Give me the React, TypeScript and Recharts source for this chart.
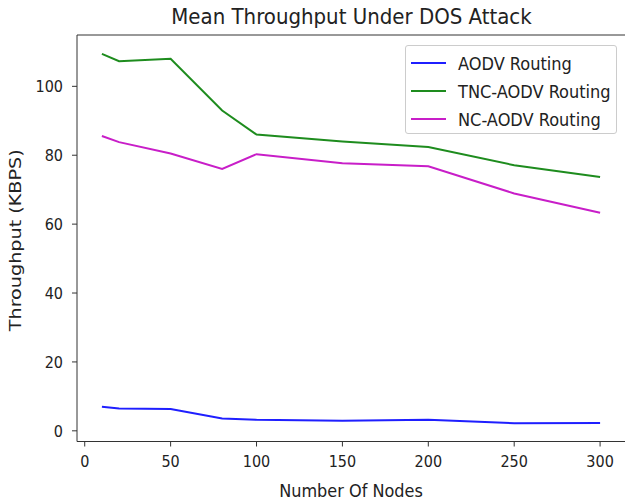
import { Line, LineChart, ReferenceLine, XAxis, YAxis } from 'recharts';

const nodes = [10, 20, 50, 80, 100, 150, 200, 250, 300];
const aodv = [7.0, 6.5, 6.3, 3.6, 3.2, 2.9, 3.2, 2.2, 2.3];
const tncAodv = [109.4, 107.3, 108.0, 93.0, 86.0, 84.0, 82.4, 77.1, 73.7];
const ncAodv = [85.6, 83.8, 80.5, 76.0, 80.3, 77.7, 76.8, 68.9, 63.3];
const xTicks = [0, 50, 100, 150, 200, 250, 300];
const yTicks = [0, 20, 40, 60, 80, 100];

const series = [
  { key: 'aodv', name: 'AODV Routing', color: '#1f1fff' },
  { key: 'tnc', name: 'TNC-AODV Routing', color: '#1e8c1e' },
  { key: 'nc', name: 'NC-AODV Routing', color: '#c81ec8' },
];

const data = nodes.map((n, i) => ({
  nodes: n,
  aodv: aodv[i],
  tnc: tncAodv[i],
  nc: ncAodv[i],
}));

const font = '"DejaVu Sans Condensed", "DejaVu Sans", sans-serif';
const axisColor = '#333';
const textColor = '#222';

const LegendBox = () => (
  <div
    style={{
      position: 'absolute',
      left: 405,
      top: 45,
      width: 212,
      height: 89,
      boxSizing: 'border-box',
      border: '1px solid #ccc',
      borderRadius: 3,
      background: '#fff',
      padding: '3px 0 0 5px',
      fontFamily: font,
      fontStretch: 'condensed',
      fontSize: 18,
      color: textColor,
    }}
  >
    {series.map((s) => (
      <div key={s.key} style={{ display: 'flex', alignItems: 'center', height: 28 }}>
        <span style={{ width: 35, height: 2.5, background: s.color, marginRight: 12 }} />
        {s.name}
      </div>
    ))}
  </div>
);

// rotated y label, squeezed across its height like the other texts
const YLabel = ({ viewBox }: any) => {
  const cx = viewBox.x + 15.5;
  const cy = viewBox.y + viewBox.height / 2 + 2;
  return (
    <text
      transform={`translate(${cx},${cy}) scale(0.8,1) rotate(-90)`}
      textAnchor="middle"
      dominantBaseline="central"
      fill={textColor}
      fontFamily="DejaVu Sans, sans-serif"
      fontSize={19.2}
    >
      Throughput (KBPS)
    </text>
  );
};

const tickStyle = { fill: textColor, fontSize: 16, fontFamily: font };

const App = () => (
  <div style={{ position: 'absolute', left: 0, top: 0, width: 625, height: 503, background: '#fff' }}>
    <div
      style={{
        position: 'absolute',
        top: 4,
        left: 77,
        width: 549,
        textAlign: 'center',
        fontFamily: font,
        fontStretch: 'condensed',
        fontSize: 22,
        color: textColor,
      }}
    >
      Mean Throughput Under DOS Attack
    </div>
    <LineChart width={625} height={503} data={data} margin={{ top: 35, right: 0, left: 0, bottom: 0 }}>
      <XAxis
        dataKey="nodes"
        type="number"
        domain={[-4.5, 314.5]}
        ticks={xTicks}
        height={61.5}
        stroke={axisColor}
        tickSize={5}
        tickMargin={9}
        tick={tickStyle}
        label={{ value: 'Number Of Nodes', position: 'insideBottom', offset: 6, ...tickStyle, fontSize: 17.9 }}
      />
      <YAxis
        type="number"
        domain={[-3.1, 114.9]}
        ticks={yTicks}
        width={77}
        stroke={axisColor}
        tickSize={5}
        tickMargin={9}
        tick={tickStyle}
        label={(props: any) => <YLabel {...props} />}
      />
      <ReferenceLine y={114.9} stroke={axisColor} />
      {series.map((s) => (
        <Line
          key={s.key}
          dataKey={s.key}
          name={s.name}
          stroke={s.color}
          strokeWidth={2}
          dot={false}
          type="linear"
          isAnimationActive={false}
        />
      ))}
    </LineChart>
    <LegendBox />
  </div>
);

export default App;
